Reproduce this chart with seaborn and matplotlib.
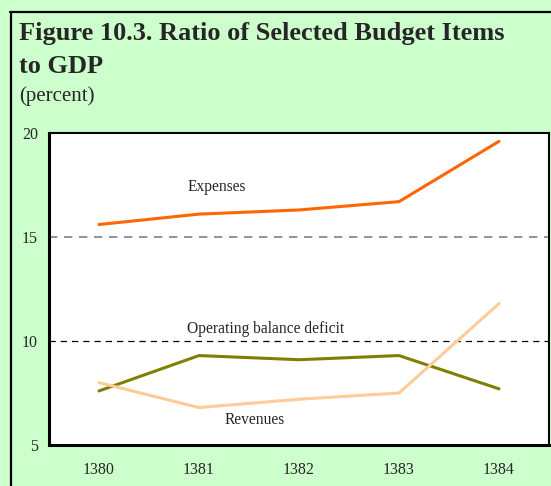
import pandas as pd
import seaborn as sns
import matplotlib.pyplot as plt
from matplotlib.lines import Line2D

years = ["1380", "1381", "1382", "1383", "1384"]
expenses = [15.6, 16.1, 16.3, 16.7, 19.6]
op_deficit = [7.6, 9.3, 9.1, 9.3, 7.7]
revenues = [8.0, 6.8, 7.2, 7.5, 11.8]

series_names = ["Expenses", "Operating balance deficit", "Revenues"]
series_colors = ["#FF6600", "#808000", "#FFCC99"]

df = pd.DataFrame({
    "year": years * 3,
    "value": expenses + op_deficit + revenues,
    "series": [s for s in series_names for _ in years],
})

sns.set_style("white")
plt.rcParams["font.family"] = ["Liberation Serif", "DejaVu Serif"]

bg = "#CCFFCC"
fig = plt.figure(figsize=(5.51, 4.86), dpi=100, facecolor=bg)
ax = fig.add_axes([49 / 551, 41 / 486, 500 / 551, 312 / 486])
ax.set_facecolor("white")

sns.lineplot(data=df, x="year", y="value", hue="series", palette=series_colors,
             hue_order=series_names, linewidth=2.2, legend=False, ax=ax, sort=False)

# gridlines
ax.axhline(15, color="#808080", linestyle=(0, (5, 4)), linewidth=1.2, zorder=0)
ax.axhline(10, color="black", linestyle=(0, (5, 4)), linewidth=0.9, zorder=0)

ax.set_xlim(-0.5, 4.5)
ax.set_ylim(5, 20)
ax.set_yticks([5, 10, 15, 20])
ax.set_yticklabels(["5", "10", "15", "20"], fontsize=11.5)
ax.set_xticks([-0.5, 0.5, 1.5, 2.5, 3.5, 4.5])
ax.set_xticklabels([])
ax.set_xticks(range(len(years)), minor=True)
ax.set_xticklabels(years, minor=True, fontsize=11.5)
ax.tick_params(axis="x", which="major", direction="out", length=4, width=1.5, color="black")
ax.tick_params(axis="x", which="minor", length=0, pad=12)
ax.tick_params(axis="y", direction="out", length=4, width=1.5, color="black", pad=4)
ax.set_xlabel("")
ax.set_ylabel("")

for side in ["left", "bottom"]:
    ax.spines[side].set_linewidth(2.2)
    ax.spines[side].set_color("black")
for side in ["top", "right"]:
    ax.spines[side].set_linewidth(1.5)
    ax.spines[side].set_color("black")

# series labels
ax.text(1.18, 17.4, "Expenses", fontsize=11.2, ha="center", va="center")
ax.text(1.67, 10.6, "Operating balance deficit", fontsize=11.2, ha="center", va="center")
ax.text(1.56, 6.2, "Revenues", fontsize=11.2, ha="center", va="center")

# titles
fig.text(19 / 551, 1 - 40 / 486, "Figure 10.3. Ratio of Selected Budget Items",
         fontsize=19, fontweight="bold", ha="left", va="baseline")
fig.text(19 / 551, 1 - 73 / 486, "to GDP",
         fontsize=19, fontweight="bold", ha="left", va="baseline")
fig.text(19 / 551, 1 - 101 / 486, "(percent)", fontsize=15, ha="left", va="baseline")

# outer frame
fig.add_artist(Line2D([10.5 / 551, 10.5 / 551], [0, 1 - 12 / 486], color="black",
                      linewidth=1.6, transform=fig.transFigure))
fig.add_artist(Line2D([10 / 551, 1], [1 - 12 / 486, 1 - 12 / 486], color="black",
                      linewidth=1.6, transform=fig.transFigure))

fig.savefig("out.png", dpi=100, facecolor=bg)
